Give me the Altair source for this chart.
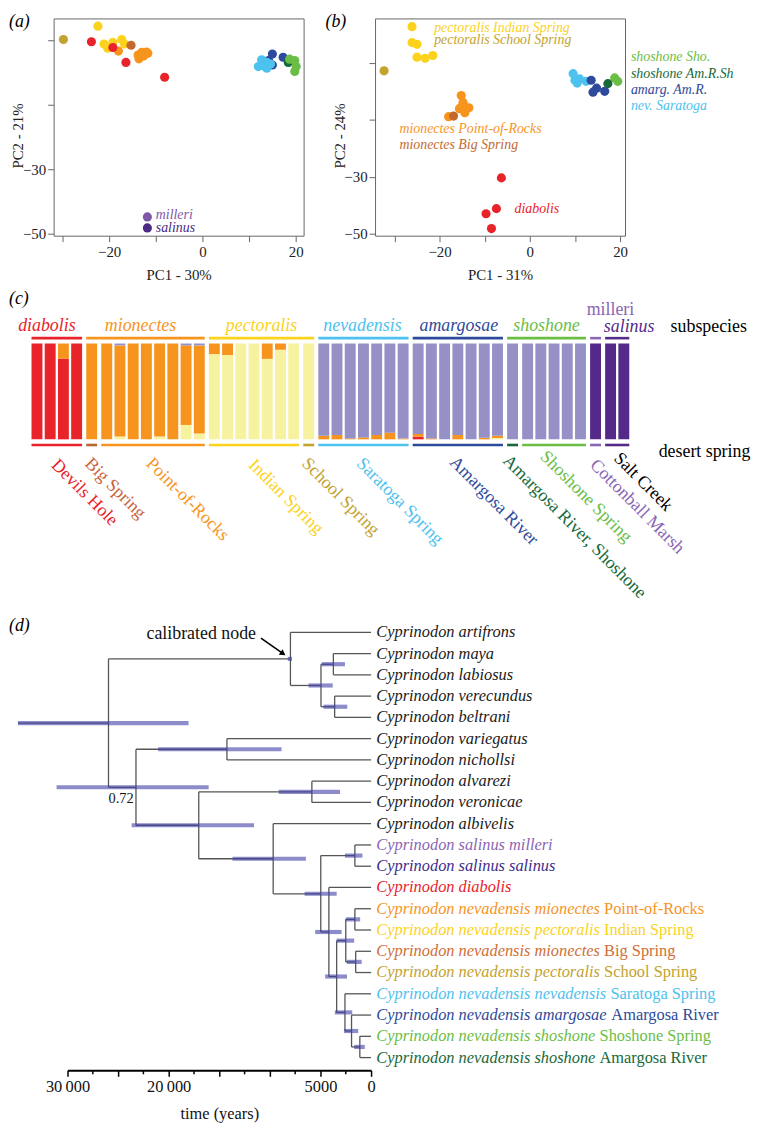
import altair as alt
import pandas as pd

SERIF = "Liberation Serif"

# ---------------- palette ----------------
RED = "#E8232A"
ORANGE = "#F7941E"
BROWN = "#C4692E"
YELLOW = "#FCD21C"
OLIVE = "#C3A22F"
LBLUE = "#4DC2EE"
DBLUE = "#2E4A9B"
GREEN = "#6BBD45"
DGREEN = "#17693A"
LAV = "#8A66B5"
DPURP = "#4B2B85"
PALE = "#F6F2A0"
BARLAV = "#9591C6"
BARPURP = "#55298A"
FRAME = "#666666"

# ---------------- (a) / (b) PCA data ----------------
GROUPS = ["pect_ind", "pect_sch", "mion_por", "mion_big", "diab", "nev_sar",
          "amarg", "sho_sho", "sho_amr", "milleri", "salinus"]
GROUP_COLOURS = [YELLOW, OLIVE, ORANGE, BROWN, RED, LBLUE,
                 DBLUE, GREEN, DGREEN, "#7E57A8", DPURP]

A_GROUP = (["pect_ind"] * 6 + ["pect_sch"] + ["mion_por"] * 7 + ["mion_big"] +
           ["diab"] * 4 + ["amarg"] * 4 + ["nev_sar"] * 6 + ["sho_amr"] +
           ["sho_sho"] * 4 + ["milleri", "salinus"])
A_X = [-22.4, -21.1, -20.3, -19.2, -17.3, -16.7,
       -29.8,
       -18.0, -13.8, -13.0, -12.0, -13.6, -12.6, -11.7,
       -15.3,
       -23.8, -19.2, -16.4, -8.1,
       15.0, 17.3, 15.0, 14.2,
       12.7, 13.8, 12.0, 13.8, 14.6, 12.9,
       18.4,
       18.7, 19.8, 20.1, 19.8,
       -11.8, -11.8]
A_Y = [14.2, 8.7, 7.4, 9.2, 10.1, 8.7,
       10.1,
       6.5, 5.3, 6.1, 6.2, 4.1, 5.0, 5.8,
       8.3,
       9.4, 7.6, 3.0, -1.6,
       5.6, 4.6, 2.2, 3.6,
       3.8, 3.0, 1.7, 1.2, 2.5, 2.0,
       3.0,
       4.0, 3.6, 1.7, 0.2,
       -44.8, -48.2]

B_GROUP = (["pect_sch"] + ["pect_ind"] * 6 + ["mion_por"] * 7 + ["mion_big"] +
           ["diab"] * 4 + ["nev_sar"] * 5 + ["amarg"] * 4 + ["sho_sho"] * 2 + ["sho_amr"])
B_X = [-32.3,
       -26.1, -26.1, -25.0, -25.0, -23.2, -21.5,
       -15.2, -14.8, -15.6, -13.5, -14.4, -18.0, -14.9,
       -16.9,
       -6.3, -7.4, -9.7, -8.5,
       9.6, 10.5, 12.5, 11.0, 10.0,
       13.6, 14.0, 16.6, 14.8,
       18.8, 19.5,
       17.3]
B_Y = [7.3,
       22.8, 17.2, 16.6, 12.1, 11.7, 12.7,
       -1.4, -3.8, -6.0, -5.7, -7.4, -8.8, -4.9,
       -8.6,
       -30.3, -41.1, -42.9, -48.1,
       6.3, 3.0, 3.6, 4.5, 4.0,
       4.0, -0.2, 0.1, 1.2,
       4.8, 3.6,
       2.8]

A_NOTES = ["milleri", "salinus"]
A_NOTE_COL = ["#7E57A8", DPURP]
A_NOTE_X = [-10.0, -10.0]
A_NOTE_Y = [-44.2, -48.3]

B_NOTES = ["pectoralis Indian Spring", "pectoralis School Spring",
           "mionectes Point-of-Rocks", "mionectes Big Spring", "diabolis",
           "shoshone Sho.", "shoshone Am.R.Sh", "amarg. Am.R.", "nev. Saratoga"]
B_NOTE_COL = [YELLOW, OLIVE, ORANGE, BROWN, RED, GREEN, DGREEN, DBLUE, LBLUE]
B_NOTE_X = [-21.2, -21.2, -28.9, -28.9, -3.4, 22.4, 22.4, 22.4, 22.4]
B_NOTE_Y = [22.5, 18.0, -13.1, -18.6, -41.1, 12.3, 6.3, 0.5, -4.9]

COLOUR_OF = dict(zip(GROUPS, GROUP_COLOURS))


def pca_panel(group, xs, ys, xdom, ydom, yticks, xtitle, ytitle,
              notes, note_col, note_x, note_y, tag, tag_x):
    df = pd.DataFrame({"g": group, "x": xs, "y": ys,
                       "c": [COLOUR_OF[g] for g in group]})
    xsc = alt.Scale(domain=xdom, nice=False, zero=False)
    ysc = alt.Scale(domain=ydom, nice=False, zero=False)
    xaxis = alt.Axis(values=[-30, -20, -10, 0, 10, 20],
                     labelExpr="indexof([-20, 0, 20], datum.value) >= 0 ? datum.label : ''",
                     title=xtitle, titleY=39, titleBaseline="middle",
                     tickSize=6, tickColor=FRAME, labelPadding=3, domain=False,
                     grid=False, labelFontSize=15, titleFontSize=15,
                     titleFontWeight="normal", labelOverlap=False, labelFlush=False,
                     labelColor="#222", titleColor="#222")
    yaxis = alt.Axis(values=yticks,
                     labelExpr="datum.value == 0 ? '0' : datum.value == -30 ? '\u221230' : "
                               "datum.value == -50 ? '\u221250' : ''",
                     title=ytitle, titleX=-36, titleY=118, titleAngle=-90,
                     titleBaseline="middle", titleAlign="center",
                     tickSize=6, tickColor=FRAME, labelPadding=2, domain=False,
                     grid=False, labelFontSize=15, titleFontSize=15,
                     titleFontWeight="normal", labelOverlap=False, labelFlush=False,
                     labelColor="#222", titleColor="#222")
    pts = alt.Chart(df).mark_circle(size=85, opacity=1).encode(
        x=alt.X("x:Q", scale=xsc, axis=xaxis),
        y=alt.Y("y:Q", scale=ysc, axis=yaxis),
        color=alt.Color("c:N", scale=None),
    )
    ndf = pd.DataFrame({"t": notes, "c": note_col, "x": note_x, "y": note_y})
    txt = alt.Chart(ndf).mark_text(align="left", baseline="middle", font=SERIF,
                                   fontSize=14, fontStyle="italic").encode(
        x=alt.X("x:Q", scale=xsc),
        y=alt.Y("y:Q", scale=ysc),
        text="t:N",
        color=alt.Color("c:N", scale=None),
    )
    lab = alt.Chart(pd.DataFrame({"t": [tag]})).mark_text(
        align="left", baseline="top", font=SERIF, fontSize=18, fontStyle="italic",
        color="black").encode(x=alt.value(tag_x), y=alt.value(-5), text="t:N")
    return alt.layer(pts, txt, lab).properties(
        width=252, height=219,
        view=alt.ViewBackground(stroke=FRAME, strokeWidth=1))


pa = pca_panel(A_GROUP, A_X, A_Y, [-31.9, 21.7], [-50.6, 16.6],
               [10, 0, -10, -20, -30, -40, -50], "PC1 - 30%", "PC2 - 21%",
               A_NOTES, A_NOTE_COL, A_NOTE_X, A_NOTE_Y, "(a)", -45)
pb = pca_panel(B_GROUP, B_X, B_Y, [-34.3, 21.1], [-50.6, 25.7],
               [20, 10, 0, -10, -20, -30, -40, -50], "PC1 - 31%", "PC2 - 24%",
               B_NOTES, B_NOTE_COL, B_NOTE_X, B_NOTE_Y, "(b)", -50)

# ---------------- (c) admixture bars ----------------
SUBSPECIES = ["diabolis", "mionectes", "pectoralis", "nevadensis",
              "amargosae", "shoshone", "milleri", "salinus"]
SUB_COUNTS = [4, 9, 8, 7, 7, 6, 1, 2]
SUB_COLOURS = [RED, ORANGE, YELLOW, LBLUE, DBLUE, GREEN, LAV, BARPURP]
SUB_ITALIC = [True, True, True, True, True, True, False, True]
SUB_DX = [-10, -5, 0, -1, 1, 0, 15, 12]
SUB_Y = [-17.7, -17.7, -17.7, -17.7, -17.7, -17.7, -33.5, -16.2]

SPRINGS = ["Devils Hole", "Big Spring", "Point-of-Rocks", "Indian Spring",
           "School Spring", "Saratoga Spring", "Amargosa River",
           "Amargosa River, Shoshone", "Shoshone Spring", "Cottonball Marsh",
           "Salt Creek"]
SPRING_COUNTS = [4, 1, 8, 7, 1, 7, 7, 1, 5, 1, 2]
SPRING_LINE_COL = [RED, "#B9662F", ORANGE, YELLOW, OLIVE, LBLUE, DBLUE, DGREEN,
                   GREEN, LAV, BARPURP]
SPRING_TEXT_COL = [RED, "#C8643C", ORANGE, YELLOW, OLIVE, LBLUE, DBLUE, DGREEN,
                   GREEN, LAV, "black"]
SPRING_DX = [5, 3, 3, 5, 3, 3, 1, -1, -7, 5, 8]
SPRING_Y = [110, 110, 110, 110, 110, 110, 110, 110, 110, 110, 101]

# ancestry fractions per individual (44 bars)
Q_RED = [1, 1, 0.84, 1,
         0, 0, 0, 0, 0, 0, 0, 0, 0,
         0, 0, 0, 0, 0, 0, 0, 0,
         0, 0, 0, 0, 0, 0, 0,
         0.028, 0, 0, 0, 0, 0, 0,
         0, 0, 0, 0, 0, 0,
         0,
         0, 0]
Q_PALE = [0, 0, 0, 0,
          0, 0, 0.03, 0, 0, 0.03, 0, 0.15, 0.06,
          0.89, 0.88, 1, 1, 0.84, 0.935, 1, 1,
          0, 0, 0, 0, 0, 0, 0,
          0, 0, 0, 0, 0, 0, 0.014,
          0, 0, 0, 0, 0, 0,
          0,
          0, 0]
Q_ORANGE = [0, 0, 0.16, 0,
            1, 1, 0.95, 1, 1, 0.97, 1, 0.83, 0.92,
            0.11, 0.12, 0, 0, 0.16, 0.065, 0, 0,
            0.038, 0.045, 0.01, 0.02, 0.045, 0.07, 0.008,
            0.028, 0.01, 0, 0.045, 0, 0.017, 0.024,
            0, 0, 0, 0, 0, 0,
            0,
            0, 0]
Q_LAV = [0, 0, 0, 0,
         0, 0, 0.02, 0, 0, 0, 0, 0.02, 0.02,
         0, 0, 0, 0, 0, 0, 0, 0,
         0.962, 0.955, 0.99, 0.98, 0.955, 0.93, 0.992,
         0.944, 0.99, 1, 0.955, 1, 0.983, 0.962,
         1, 1, 1, 1, 1, 1,
         0,
         0, 0]
Q_PURP = [0, 0, 0, 0,
          0, 0, 0, 0, 0, 0, 0, 0, 0,
          0, 0, 0, 0, 0, 0, 0, 0,
          0, 0, 0, 0, 0, 0, 0,
          0, 0, 0, 0, 0, 0, 0,
          0, 0, 0, 0, 0, 0,
          1,
          1, 1]

COMP_COLOURS = [RED, PALE, ORANGE, BARLAV, BARPURP]
COMP_VALUES = [Q_RED, Q_PALE, Q_ORANGE, Q_LAV, Q_PURP]

N_BARS = len(Q_RED)
GAP = 0.138      # extra gap between springs (bar units)
BW = 0.825       # bar width (bar units)
spring_of = []
for k, n in enumerate(SPRING_COUNTS):
    spring_of += [k] * n
pos = [i + GAP * spring_of[i] for i in range(N_BARS)]

bar_rows = []
for i in range(N_BARS):
    tot = sum(v[i] for v in COMP_VALUES)
    acc = 0.0
    for col, vals in zip(COMP_COLOURS, COMP_VALUES):
        v = vals[i] / tot
        if v > 0:
            bar_rows.append({"x0": pos[i], "x1": pos[i] + BW, "y0": acc,
                             "y1": acc + v, "c": col})
            acc += v
bars_df = pd.DataFrame(bar_rows)


def spans(counts):
    out, s = [], 0
    for n in counts:
        out.append((pos[s], pos[s + n - 1] + BW))
        s += n
    return out


sub_span = spans(SUB_COUNTS)
spr_span = spans(SPRING_COUNTS)

xsc_c = alt.Scale(domain=[0, 45], range=[-22.3, 577.55], nice=False, zero=False)
ysc_c = alt.Scale(domain=[0, 1], range=[96.6, 0], nice=False, zero=False)

c_layers = []
c_layers.append(alt.Chart(bars_df).mark_rect().encode(
    x=alt.X("x0:Q", scale=xsc_c, axis=None), x2="x1:Q",
    y=alt.Y("y0:Q", scale=ysc_c, axis=None), y2="y1:Q",
    color=alt.Color("c:N", scale=None)))
top_df = pd.DataFrame({"x0": [s[0] for s in sub_span], "x1": [s[1] for s in sub_span],
                       "c": SUB_COLOURS})
c_layers.append(alt.Chart(top_df).mark_rule(strokeWidth=2.6).encode(
    x=alt.X("x0:Q", scale=xsc_c, axis=None), x2="x1:Q", y=alt.value(-5.4),
    color=alt.Color("c:N", scale=None)))
bot_df = pd.DataFrame({"x0": [s[0] for s in spr_span], "x1": [s[1] for s in spr_span],
                       "c": SPRING_LINE_COL})
c_layers.append(alt.Chart(bot_df).mark_rule(strokeWidth=2.6).encode(
    x=alt.X("x0:Q", scale=xsc_c, axis=None), x2="x1:Q", y=alt.value(102.3),
    color=alt.Color("c:N", scale=None)))
for name, sp, col, it, dx, yy in zip(SUBSPECIES, sub_span, SUB_COLOURS, SUB_ITALIC,
                                     SUB_DX, SUB_Y):
    d = pd.DataFrame({"t": [name], "x": [(sp[0] + sp[1]) / 2]})
    c_layers.append(alt.Chart(d).mark_text(
        align="center", baseline="middle", font=SERIF, fontSize=18, dx=dx,
        fontStyle="italic" if it else "normal", color=col).encode(
        x=alt.X("x:Q", scale=xsc_c, axis=None), y=alt.value(yy), text="t:N"))
for name, sp, col, dx, yy in zip(SPRINGS, spr_span, SPRING_TEXT_COL, SPRING_DX, SPRING_Y):
    d = pd.DataFrame({"t": [name], "x": [(sp[0] + sp[1]) / 2]})
    c_layers.append(alt.Chart(d).mark_text(
        align="left", baseline="top", font=SERIF, fontSize=18, angle=45, dx=dx,
        color=col).encode(
        x=alt.X("x:Q", scale=xsc_c, axis=None), y=alt.value(yy), text="t:N"))
SIDE_TEXT = ["subspecies", "desert spring"]
SIDE_X = [48.33, 47.43]
SIDE_Y = [-16.7, 109.0]
for t, xx, yy in zip(SIDE_TEXT, SIDE_X, SIDE_Y):
    c_layers.append(alt.Chart(pd.DataFrame({"t": [t], "x": [xx]})).mark_text(
        align="left", baseline="middle", font=SERIF, fontSize=18, color="black").encode(
        x=alt.X("x:Q", scale=xsc_c, axis=None), y=alt.value(yy), text="t:N"))
c_layers.append(alt.Chart(pd.DataFrame({"t": ["(c)"]})).mark_text(
    align="left", baseline="middle", font=SERIF, fontSize=18, fontStyle="italic",
    color="black").encode(x=alt.value(-45), y=alt.value(-44.7), text="t:N"))
pc = alt.layer(*c_layers).properties(width=580, height=160.6)

# ---------------- (d) dated tree ----------------
TIP_SPECIES = ["Cyprinodon artifrons", "Cyprinodon maya", "Cyprinodon labiosus",
               "Cyprinodon verecundus", "Cyprinodon beltrani", "Cyprinodon variegatus",
               "Cyprinodon nichollsi", "Cyprinodon alvarezi", "Cyprinodon veronicae",
               "Cyprinodon albivelis", "Cyprinodon salinus milleri",
               "Cyprinodon salinus salinus", "Cyprinodon diabolis",
               "Cyprinodon nevadensis mionectes", "Cyprinodon nevadensis pectoralis",
               "Cyprinodon nevadensis mionectes", "Cyprinodon nevadensis pectoralis",
               "Cyprinodon nevadensis nevadensis", "Cyprinodon nevadensis amargosae",
               "Cyprinodon nevadensis shoshone", "Cyprinodon nevadensis shoshone"]
TIP_PLACE = ["", "", "", "", "", "", "", "", "", "", "", "", "",
             "Point-of-Rocks", "Indian Spring", "Big Spring", "School Spring",
             "Saratoga Spring", "Amargosa River", "Shoshone Spring", "Amargosa River"]
TIP_COLOUR = ["#1a1a1a"] * 10 + [LAV, "#3E2C8C", RED, ORANGE, YELLOW, "#CF6E35",
                                 OLIVE, LBLUE, DBLUE, GREEN, DGREEN]

NODE_NAMES = ["root", "cal", "mlvb", "ml", "vb", "n072", "varnic", "rest", "alvver",
              "big", "x", "sal", "y", "z", "pect", "pi", "bs", "sw", "as", "sh"]
NODE_KIDS = [("cal", "n072"), (0, "mlvb"), ("ml", "vb"), (1, 2), (3, 4),
             ("varnic", "rest"), (5, 6), ("alvver", "big"), (7, 8), (9, "x"),
             ("sal", "y"), (10, 11), (12, "z"), ("pect", "sw"), ("pi", "bs"),
             (13, 14), (15, 16), (17, "as"), (18, "sh"), (19, 20)]
NODE_AGE = [25950, 7970, 4950, 3725, 3600, 23235, 14245, 17030, 5850, 9675,
            4970, 1600, 4170, 3400, 2500, 1600, 1520, 2580, 1930, 1110]
HPD_YOUNG = [18040, 7810, 3790, 2580, 2350, 16050, 8850, 11570, 3070, 6440,
             3400, 850, 2910, 2380, 1670, 1080, 930, 1860, 1270, 620]
HPD_OLD = [34900, 8235, 6180, 4870, 4705, 31080, 21050, 23660, 9120, 13700,
           6570, 2580, 5520, 4540, 3400, 2480, 2400, 3580, 2680, 1670]
MAJOR_TICKS = [0, 5000, 10000, 15000, 20000, 25000, 30000]
MINOR_TICKS = [2500, 7500, 12500, 17500, 22500, 27500]

IDX = {n: i for i, n in enumerate(NODE_NAMES)}


def node_y(c):
    if isinstance(c, int):
        return float(c)
    a, b = NODE_KIDS[IDX[c]]
    return (node_y(a) + node_y(b)) / 2


def node_t(c):
    return 0.0 if isinstance(c, int) else float(NODE_AGE[IDX[c]])


edge_rows = []
for n, kids in zip(NODE_NAMES, NODE_KIDS):
    t = node_t(n)
    ys = [node_y(k) for k in kids]
    edge_rows.append({"t0": t, "t1": t, "y0": min(ys), "y1": max(ys)})
    for k in kids:
        edge_rows.append({"t0": t, "t1": node_t(k), "y0": node_y(k), "y1": node_y(k)})
edge_rows.append({"t0": float(HPD_OLD[0]), "t1": node_t("root"),
                  "y0": node_y("root"), "y1": node_y("root")})
edges_df = pd.DataFrame(edge_rows)
hpd_df = pd.DataFrame({"lo": HPD_YOUNG, "hi": HPD_OLD,
                       "y": [node_y(n) for n in NODE_NAMES]})

xsc_d = alt.Scale(domain=[30000, 0], range=[14, 320], nice=False, zero=False)
ysc_d = alt.Scale(domain=[-1, 20.6], range=[0, 463], nice=False, zero=False)

TICK_LABELS = ("datum.value == 30000 ? '30\u2009000' : datum.value == 20000 ? "
               "'20\u2009000' : datum.value == 5000 ? '5000' : datum.value == 0 ? '0' : ''")
d_axis = alt.Axis(values=MAJOR_TICKS, labelExpr=TICK_LABELS, title="time (years)",
                  titleY=44, titleBaseline="middle", titleFontSize=16.5,
                  titleFontWeight="normal", labelFontSize=16.5, tickSize=6,
                  tickWidth=1.5, tickColor="black", domainColor="black",
                  domainWidth=2, labelPadding=2, grid=False, labelOverlap=False,
                  labelFlush=False, labelColor="#111", titleColor="#111")

d_layers = []
d_layers.append(alt.Chart(edges_df).mark_rule(color="#555555", strokeWidth=1.3).encode(
    x=alt.X("t0:Q", scale=xsc_d, axis=d_axis), x2="t1:Q",
    y=alt.Y("y0:Q", scale=ysc_d, axis=None), y2="y1:Q"))
d_layers.append(alt.Chart(hpd_df).mark_rule(color="#3F3FA8", opacity=0.6,
                                            strokeWidth=4.2).encode(
    x=alt.X("lo:Q", scale=xsc_d), x2="hi:Q",
    y=alt.Y("y:Q", scale=ysc_d, axis=None)))
d_layers.append(alt.Chart(pd.DataFrame({"m": MINOR_TICKS})).mark_rule(
    color="black", strokeWidth=1.5).encode(
    x=alt.X("m:Q", scale=xsc_d), y=alt.value(463), y2=alt.value(467)))
tips_df = pd.DataFrame({"t": TIP_SPECIES, "c": TIP_COLOUR, "x": [0.0] * len(TIP_SPECIES),
                        "y": list(range(len(TIP_SPECIES)))})
TIP_FS = 16.5
d_layers.append(alt.Chart(tips_df).mark_text(
    align="left", baseline="middle", font=SERIF, fontSize=TIP_FS, fontStyle="italic",
    dx=5.3).encode(
    x=alt.X("x:Q", scale=xsc_d), y=alt.Y("y:Q", scale=ysc_d, axis=None),
    text="t:N", color=alt.Color("c:N", scale=None)))

# approximate italic glyph advance widths (per 1000 em) to place the roman suffix
ITALIC_W = {" ": 250, "C": 667, "a": 500, "b": 500, "c": 444, "d": 500, "e": 444,
            "f": 278, "g": 500, "h": 500, "i": 278, "j": 278, "k": 444, "l": 278,
            "m": 722, "n": 500, "o": 500, "p": 500, "q": 500, "r": 389, "s": 389,
            "t": 278, "u": 500, "v": 444, "w": 667, "x": 444, "y": 444, "z": 389}
for i, (sp, place, col) in enumerate(zip(TIP_SPECIES, TIP_PLACE, TIP_COLOUR)):
    if not place:
        continue
    w = sum(ITALIC_W.get(ch, 500) for ch in sp + " ") * TIP_FS / 1000.0
    d = pd.DataFrame({"t": [place], "x": [0.0], "y": [i]})
    d_layers.append(alt.Chart(d).mark_text(
        align="left", baseline="middle", font=SERIF, fontSize=TIP_FS, dx=5.3 + w,
        color=col).encode(
        x=alt.X("x:Q", scale=xsc_d), y=alt.Y("y:Q", scale=ysc_d, axis=None),
        text="t:N"))

NOTE_TEXT = ["calibrated node"]
NOTE_T = [11373.0]
NOTE_Y = [0.08]
d_layers.append(alt.Chart(pd.DataFrame({"t": NOTE_TEXT, "x": NOTE_T, "y": NOTE_Y})).mark_text(
    align="right", baseline="middle", font=SERIF, fontSize=18, color="#111").encode(
    x=alt.X("x:Q", scale=xsc_d), y=alt.Y("y:Q", scale=ysc_d, axis=None),
    text="t:N"))
arrow_df = pd.DataFrame({"x": [10882.0], "x2": [8800.0], "y": [0.27], "y2": [0.97]})
d_layers.append(alt.Chart(arrow_df).mark_rule(color="black", strokeWidth=1.6).encode(
    x=alt.X("x:Q", scale=xsc_d), x2="x2:Q",
    y=alt.Y("y:Q", scale=ysc_d, axis=None), y2="y2:Q"))
head_df = pd.DataFrame({"x": [8700.0], "y": [1.0]})
d_layers.append(alt.Chart(head_df).mark_point(
    shape="triangle-right", filled=True, size=45, angle=35, color="black",
    opacity=1).encode(
    x=alt.X("x:Q", scale=xsc_d), y=alt.Y("y:Q", scale=ysc_d, axis=None)))
pp_df = pd.DataFrame({"t": ["0.72"], "x": [24706.0], "y": [7.86]})
d_layers.append(alt.Chart(pp_df).mark_text(
    align="center", baseline="middle", font=SERIF, fontSize=14.5, color="#111").encode(
    x=alt.X("x:Q", scale=xsc_d), y=alt.Y("y:Q", scale=ysc_d, axis=None),
    text="t:N"))
d_layers.append(alt.Chart(pd.DataFrame({"t": ["(d)"]})).mark_text(
    align="left", baseline="middle", font=SERIF, fontSize=18, fontStyle="italic",
    color="black").encode(x=alt.value(-45), y=alt.value(15), text="t:N"))
pdd = alt.layer(*d_layers).properties(width=320, height=463)

# ---------------- assemble ----------------
left_col = alt.vconcat(pa, pc, pdd, spacing=108.7, bounds="flush")
chart = alt.hconcat(left_col, pb, spacing=324, bounds="flush").properties(
    padding=0
).configure_view(stroke="transparent").configure_axis(
    labelFont=SERIF, titleFont=SERIF)

chart.save("out.html", embed_options={"renderer": "svg", "actions": False})
